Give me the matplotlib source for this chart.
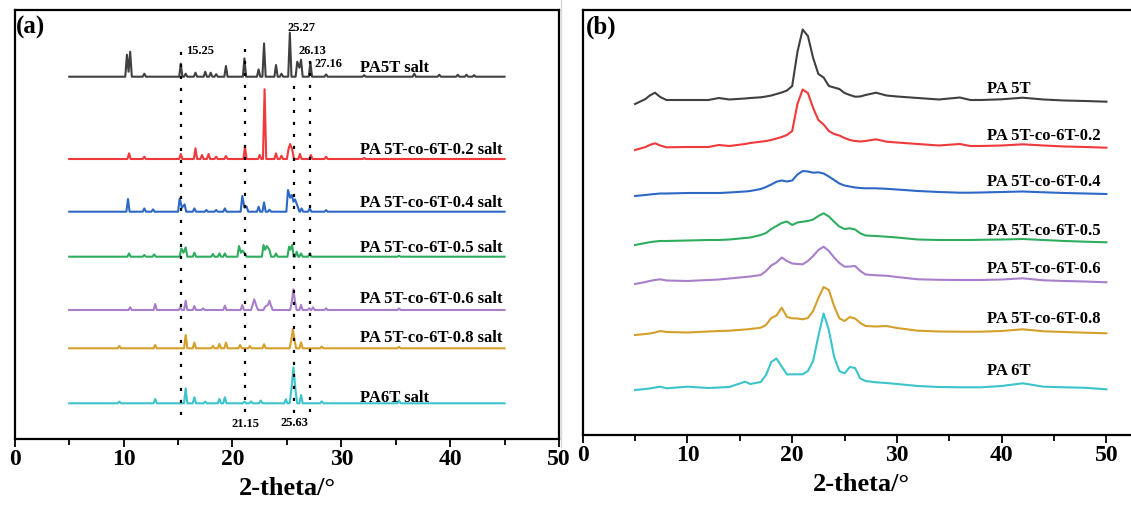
import numpy as np
import matplotlib.pyplot as plt
from matplotlib.lines import Line2D
from matplotlib.ticker import MultipleLocator

plt.rcParams['font.family'] = ['Liberation Serif', 'DejaVu Serif']
plt.rcParams['font.weight'] = 'bold'

# ---------------- panel (a): monomer salts ----------------
# each pattern as (2-theta, height) points,
# close points are joined directly, the rest sit on a flat baseline
salt_names = ['PA5T salt', 'PA 5T-co-6T-0.2 salt', 'PA 5T-co-6T-0.4 salt',
              'PA 5T-co-6T-0.5 salt', 'PA 5T-co-6T-0.6 salt',
              'PA 5T-co-6T-0.8 salt', 'PA6T salt']
salt_offsets = [362.3, 280, 227.3, 182.3, 129, 90.7, 35.7]
salt_label_lift = [5, 5, 5, 5, 7, 6.5, 1.6]

salt_pa5t = [(10.3, 22), (10.45, 5), (10.6, 25), (11.9, 3), (15.25, 13), (15.7, 3),
             (16.6, 4), (17.5, 5), (18.0, 4), (18.5, 2.5), (19.4, 10.7), (21.1, 18.3),
             (22.4, 7.3), (22.9, 33.3), (24.0, 11.7), (24.5, 3), (25.27, 44),
             (25.95, 15), (26.15, 9), (26.3, 17), (27.16, 14.7), (28.6, 2.3),
             (32.1, 1.5), (36.7, 3), (39.0, 2), (40.7, 2), (41.5, 2), (42.2, 1.5)]
salt_02 = [(10.5, 5.7), (11.9, 2.3), (15.25, 5), (16.6, 10.7), (17.2, 4), (17.8, 5),
           (18.5, 2.3), (19.4, 3), (21.15, 12.3), (22.5, 4), (22.95, 69.7), (24.0, 5.7),
           (24.5, 3.3), (25.15, 10), (25.3, 15), (25.5, 9), (26.2, 5), (27.2, 4),
           (28.6, 2.3), (32.1, 1)]
salt_04 = [(10.4, 12.7), (11.9, 3.3), (12.7, 2.3), (15.15, 13.3), (15.35, 4), (15.6, 7.3),
           (16.5, 3.3), (17.6, 1.7), (18.5, 1.7), (19.3, 3.3), (20.9, 15.7), (21.1, 4),
           (21.3, 5), (22.4, 5), (22.9, 9.3), (23.4, 2), (25.1, 21.7), (25.3, 14),
           (25.45, 16.7), (25.6, 10), (25.75, 12.3), (26.0, 5), (26.35, 3.3), (27.1, 3.3),
           (28.6, 1.5)]
salt_05 = [(10.5, 3.3), (11.9, 1.7), (12.8, 2.3), (15.3, 8.3), (15.5, 4), (15.7, 9.3),
           (16.5, 4), (18.2, 2.7), (18.8, 3.3), (19.3, 3.3), (20.6, 10.7), (20.78, 4),
           (20.92, 6), (21.15, 3), (22.85, 11.7), (23.0, 7), (23.15, 10.7), (23.4, 6.7),
           (24.0, 3.3), (25.2, 10), (25.33, 7), (25.48, 11.7), (25.9, 5), (26.3, 3.3),
           (27.1, 3.3), (35.3, 1)]
salt_06 = [(10.6, 2.7), (12.9, 6), (15.2, 2.7), (15.7, 9.3), (16.5, 4), (17.3, 1.7),
           (19.3, 4.3), (20.9, 5), (21.85, 5), (22.0, 10.7), (22.2, 4), (23.0, 3.3),
           (23.25, 5), (23.4, 9.3), (23.55, 4), (25.45, 8), (25.6, 20.7), (25.75, 8),
           (26.3, 5), (27.05, 1.7), (27.4, 2.7), (28.6, 1.7), (35.3, 1.5)]
salt_08 = [(9.6, 2.3), (12.9, 3.3), (15.7, 13.3), (16.5, 5.7), (18.2, 2.3), (18.8, 4.3),
           (19.4, 5.7), (20.7, 3.3), (21.6, 2.3), (22.9, 4), (25.4, 8), (25.55, 19.3),
           (25.7, 8), (26.3, 6), (28.2, 1.7), (35.3, 1.5)]
salt_pa6t = [(9.6, 1.7), (12.9, 4.3), (15.7, 15), (16.5, 6), (17.5, 1.7), (18.8, 4.3),
             (19.3, 6), (21.1, 1.7), (21.7, 2), (22.6, 2.7), (24.9, 4), (25.4, 12),
             (25.6, 36), (25.8, 12), (26.3, 8.3), (28.2, 2), (35.3, 3)]
salt_patterns = [salt_pa5t, salt_02, salt_04, salt_05, salt_06, salt_08, salt_pa6t]

marked_peaks = [15.25, 21.15, 25.63, 27.16]
marked_top = [390, 390, 362, 379]
marked_bottom = [24, 27, 26, 27]

# ---------------- panel (b): polymers ----------------
theta_b = [5, 6, 6.4, 6.9, 7.4, 8, 10, 12, 13, 14, 15.5, 16, 17, 17.5, 18, 18.5, 19,
           19.5, 20, 20.5, 21, 21.5, 22, 22.5, 23, 23.5, 24, 24.5, 25, 25.5, 26, 26.5,
           27, 28, 29, 30, 32, 34, 36, 37, 38, 40, 42, 44, 46, 48, 50]
pa5t = [331, 336, 339.5, 342.3, 338, 335, 335, 335, 337, 335.5, 336.5, 337, 337.7, 338.5,
        339.5, 341, 342.5, 344.5, 349, 383, 405.5, 399, 377, 361, 357.5, 349, 347.5, 346,
        342, 340, 338.3, 338.5, 340, 342.3, 339.5, 338.5, 337, 335.5, 337.5, 335, 335,
        335.7, 337.3, 335.5, 334.5, 334, 333.3]
co_02 = [285, 288, 290, 291.7, 289.5, 287.7, 288, 288, 290, 289, 291, 292, 293.3, 294, 295,
         296.5, 298, 300, 304, 331, 345.5, 342, 327, 315, 310.5, 304, 301, 299.5, 297, 295,
         294, 293.5, 294, 295.7, 293.3, 292.5, 291, 289.5, 291, 289, 289, 289.5, 290.7,
         289.5, 288.5, 288, 287.3]
co_04 = [239, 240, 240.5, 241, 241.5, 241.5, 242, 242, 242, 242.5, 243.5, 244, 246, 248,
         250.5, 253.3, 254.5, 253.5, 254.5, 260.5, 264, 263.5, 262.3, 262.7, 261.5, 258.5,
         255, 251.5, 249.5, 248.5, 247.5, 247, 246.7, 246.7, 246.2, 245.5, 244, 243, 242.3,
         242.3, 242.5, 243, 243.5, 242.7, 242, 241.5, 241]
co_05 = [190, 192, 192.8, 193.5, 194, 194, 194.5, 195, 195, 195.5, 197, 197.5, 200, 202,
         206, 209, 212, 213.5, 210, 212.5, 213.3, 214, 215.5, 219, 221.7, 218.5, 213.3,
         208.5, 206, 206.7, 205.5, 201.7, 199.5, 199, 198.3, 197.5, 195.5, 195, 195, 195,
         195.2, 195.5, 196, 195, 194, 193.3, 192.7]
co_06 = [151, 153, 154, 155, 155.7, 154.5, 154, 155, 155.5, 156.5, 158, 158.5, 160, 164,
         169.5, 172.5, 177.5, 174, 171.5, 171, 170.7, 174, 179, 185, 188.3, 184, 177.5,
         172, 168.3, 168.5, 169, 164, 160.5, 159.7, 159.3, 158, 155.7, 155.2, 155, 155,
         155, 155.5, 156.7, 154.7, 154, 153.5, 152.7]
co_08 = [100, 101, 101.5, 102.5, 104, 103, 102.5, 103.5, 104, 104.3, 105.5, 106, 107.3,
         110, 117, 119.5, 127.3, 118, 116.7, 116.5, 115.7, 117, 124, 137, 148, 145, 129,
         116.7, 114, 118, 116.5, 112, 109, 108.5, 109, 107, 104.3, 103.5, 103.3, 103.3,
         103.3, 104, 105.7, 103.7, 103, 102.3, 101.7]
pa6t = [45, 46, 46.5, 47.5, 48.3, 46.7, 48.3, 47, 47.5, 48, 53.3, 51, 53, 60, 73, 76.5,
        68.5, 60.5, 60.7, 60.7, 60.7, 64, 74, 99, 121.5, 105, 78.3, 64, 61.7, 68, 67, 56.5,
        54, 52.7, 52, 51, 49, 48, 47.7, 47.7, 47.7, 49, 51.7, 48.3, 47.7, 47.2, 45.7]
polymer_curves = [pa5t, co_02, co_04, co_05, co_06, co_08, pa6t]
polymer_names = ['PA 5T', 'PA 5T-co-6T-0.2', 'PA 5T-co-6T-0.4', 'PA 5T-co-6T-0.5',
                 'PA 5T-co-6T-0.6', 'PA 5T-co-6T-0.8', 'PA 6T']
polymer_label_y = [342, 295, 249, 200, 161.7, 111.7, 60]

colors = ['#404040', '#f0393a', '#2d68c4', '#2fad5f', '#a77fcb', '#d59f2c', '#3bc4cb']


def salt_trace(points, base, hw=0.15, start=5, end=45):
    xs, ys = [start], [base]
    prev = None
    for x, h in points:
        if prev is None or x - prev > 2 * hw + 1e-6:
            if prev is not None:
                xs.append(prev + hw); ys.append(base)
            xs.append(x - hw); ys.append(base)
        xs.append(x); ys.append(base + h)
        prev = x
    xs += [prev + hw, end]
    ys += [base, base]
    return xs, ys


def style_axis(ax, xmax):
    ax.set_xlim(0, xmax)
    ax.set_yticks([])
    ax.xaxis.set_major_locator(MultipleLocator(10))
    ax.xaxis.set_minor_locator(MultipleLocator(5))
    ax.tick_params(axis='x', which='major', direction='out', length=6, width=1.3,
                   labelsize=17, pad=1)
    ax.tick_params(axis='x', which='minor', direction='out', length=4, width=1.3)
    for sp in ax.spines.values():
        sp.set_linewidth(1.6)
    ax.set_xticks([0, 10, 20, 30, 40, 50])
    ax.set_xlabel('2-theta/°', fontsize=19, fontweight='bold', labelpad=5)


fig = plt.figure(figsize=(11.31, 5.2), dpi=100)
W, H = 1131, 520

ax1 = fig.add_axes([14.8 / W, 1 - 439 / H, 544.2 / W, 429 / H])
ax1.set_ylim(0, 429)
style_axis(ax1, 50)
for pts, off, c in zip(salt_patterns, salt_offsets, colors):
    xs, ys = salt_trace(pts, off)
    ax1.plot(xs, ys, color=c, lw=1.5, solid_joinstyle='round')
for name, off, lift in zip(salt_names, salt_offsets, salt_label_lift):
    ax1.text(31.7, off + lift, name, fontsize=12, fontweight='bold', va='baseline')
for x, top, bot in zip(marked_peaks, marked_top, marked_bottom):
    ax1.plot([x, x], [bot, top], color='black', lw=1.6, ls=(0, (1.4, 4.0)),
             dash_capstyle='butt', zorder=5)
peak_font = dict(fontsize=9, fontweight='bold', va='baseline')
ax1.text(15.7, 385, '15.25', **peak_font)
ax1.text(25.1, 408, '25.27', **peak_font)
ax1.text(26.1, 385.5, '26.13', **peak_font)
ax1.text(27.5, 372, '27.16', **peak_font)
ax1.text(19.9, 12.3, '21.15', **peak_font)
ax1.text(24.4, 13, '25.63', **peak_font)
fig.text(16 / W, 1 - 16 / H, '(a)', fontsize=18, fontweight='bold', va='top')

ax2 = fig.add_axes([582.7 / W, 1 - 435 / H, 558.3 / W, 425 / H])
ax2.set_ylim(0, 425)
style_axis(ax2, 53.3)
ax2.spines['right'].set_visible(False)
for ys, c in zip(polymer_curves, colors):
    ax2.plot(theta_b, ys, color=c, lw=1.5, solid_joinstyle='round')
for name, y in zip(polymer_names, polymer_label_y):
    ax2.text(38.6, y, name, fontsize=12, fontweight='bold', va='baseline')
fig.text(586 / W, 1 - 16 / H, '(b)', fontsize=18, fontweight='bold', va='top')

fig.add_artist(Line2D([561 / W, 561 / W], [1, 1 - 447 / H], color='#d8d8d8', lw=1))

fig.savefig('out.png', dpi=100)
